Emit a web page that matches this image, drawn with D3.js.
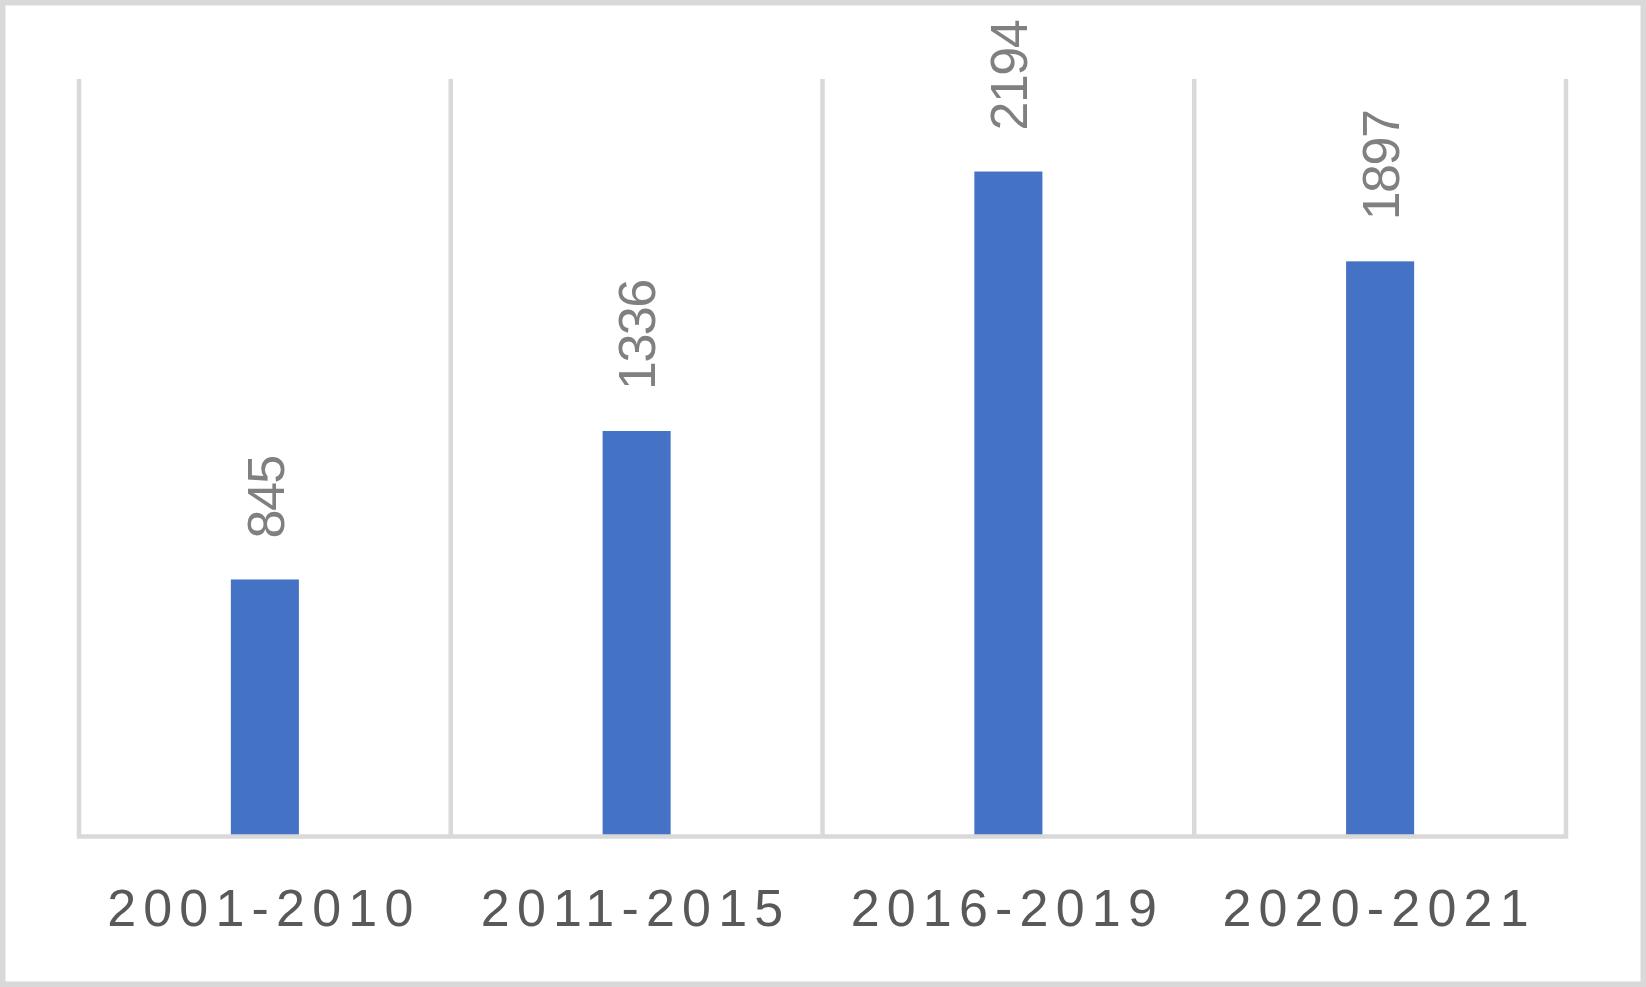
<!DOCTYPE html>
<html>
<head>
<meta charset="utf-8">
<script src="https://cdn.jsdelivr.net/npm/d3@7"></script>
<style>
  body { margin: 0; background: #fff; }
  svg { display: block; }
</style>
</head>
<body>
<div id="chart"></div>
<script>
var periods = ["2001-2010", "2011-2015", "2016-2019", "2020-2021"];
var counts = [845, 1336, 2194, 1897];
var yMax = 2500;

(function() {
  var W = 1646, H = 987;
  var margin = { top: 79, left: 79, right: 80, bottom: 152 },
    width = W - margin.left - margin.right,
    height = H - margin.top - margin.bottom;

  var root = d3.select("#chart")
    .append("svg")
    .attr("width", W)
    .attr("height", H);

  // outer frame
  root.append("rect")
    .attr("x", 2.75).attr("y", 2.75)
    .attr("width", W - 5.5).attr("height", H - 5.5)
    .attr("fill", "#fff")
    .attr("stroke", "#d9d9d9")
    .attr("stroke-width", 5.5);

  var svg = root.append("g")
    .attr("transform", "translate(" + margin.left + "," + margin.top + ")");

  var data = periods.map(function(p, i) { return { period: p, count: counts[i] }; });

  var xBand = d3.scaleBand().domain(periods).range([0, width]);
  var x = d3.scaleBand().domain(periods).range([0, width])
    .paddingInner(0.817).paddingOuter(0.817 / 2);
  var y = d3.scaleLinear().domain([0, yMax]).range([height, 0]);

  // vertical category separators
  var edges = periods.map(function(p) { return xBand(p); }).concat([width]);
  svg.selectAll(".sep")
    .data(edges)
    .enter().append("line")
    .attr("class", "sep")
    .attr("x1", function(d) { return d; })
    .attr("x2", function(d) { return d; })
    .attr("y1", 0)
    .attr("y2", height)
    .attr("stroke", "#d9d9d9")
    .attr("stroke-width", 4.5);

  svg.selectAll(".bar")
    .data(data)
    .enter().append("rect")
    .attr("class", "bar")
    .attr("x", function(d) { return x(d.period); })
    .attr("y", function(d) { return y(d.count); })
    .attr("width", x.bandwidth())
    .attr("height", function(d) { return height - y(d.count); })
    .attr("fill", "#4472c4");

  // baseline
  svg.append("line")
    .attr("x1", -2.25).attr("x2", width + 2.25)
    .attr("y1", height + 1.5).attr("y2", height + 1.5)
    .attr("stroke", "#d9d9d9")
    .attr("stroke-width", 4.5);

  // value labels, rotated
  svg.selectAll(".val")
    .data(data)
    .enter().append("text")
    .attr("class", "val")
    .attr("transform", function(d) {
      return "translate(" + (x(d.period) + x.bandwidth() / 2) + "," + (y(d.count) - 41) + ") rotate(-90)";
    })
    .attr("dy", "0.36em")
    .attr("font-family", "Liberation Sans, Arial, sans-serif")
    .attr("font-size", 52)
    .attr("letter-spacing", -1.5)
    .attr("fill", "#808080")
    .text(function(d) { return d.count; });

  // category labels
  svg.selectAll(".cat")
    .data(periods)
    .enter().append("text")
    .attr("class", "cat")
    .attr("x", function(d) { return xBand(d) + xBand.bandwidth() / 2 - 1; })
    .attr("y", height + 91)
    .attr("text-anchor", "middle")
    .attr("font-family", "Liberation Sans, Arial, sans-serif")
    .attr("font-size", 52)
    .attr("letter-spacing", 7.2)
    .attr("fill", "#595959")
    .text(function(d) { return d; });
})();
</script>
</body>
</html>
